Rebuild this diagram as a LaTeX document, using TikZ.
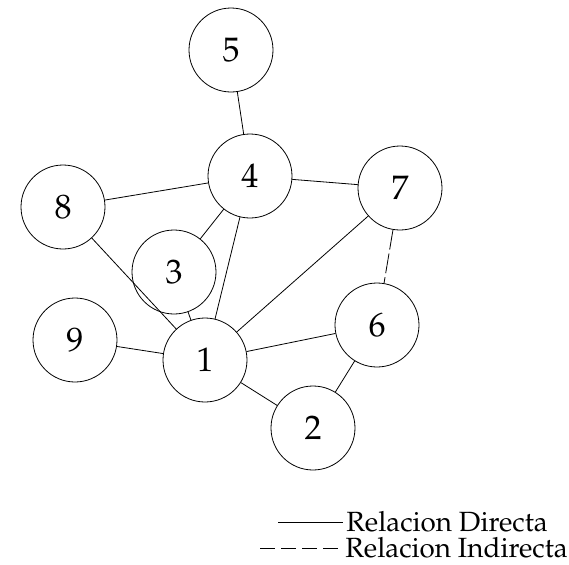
\documentclass[tikz,border=0pt]{standalone}
\usepackage[T1]{fontenc}
\usepackage{mathpazo}
\usetikzlibrary{positioning}

\begin{document}
\begin{tikzpicture}[x=0.5pt, y=-0.5pt,
    vertex/.style={circle, draw, minimum size=42pt, inner sep=0pt, font=\fontsize{17}{20}\selectfont},
    legend/.style={anchor=west, inner sep=1.5pt, font=\fontsize{13.9}{16}\selectfont}]
  \useasboundingbox (0,0) rectangle (569,564);
  % vertices
  \node[vertex] (n5) at (231,50) {5};
  \node[vertex] (n4) at (250,176) {4};
  \node[vertex] (n7) at (400,188) {7};
  \node[vertex] (n8) at (63,207) {8};
  \node[vertex] (n3) at (174,272) {3};
  \node[vertex] (n9) at (75,340) {9};
  \node[vertex] (n1) at (205,360) {1};
  \node[vertex] (n6) at (377,325) {6};
  \node[vertex] (n2) at (313,428) {2};
  % relations
  \draw (n5) -- (n4);
  \draw (n4) -- (n8);
  \draw (n4) -- (n7);
  \draw (n4) -- (n3);
  \draw (n4) -- (n1);
  \draw (n8) -- (n1);
  \draw (n3) -- (n1);
  \draw (n7) -- (n1);
  \draw (n9) -- (n1);
  \draw (n1) -- (n6);
  \draw (n1) -- (n2);
  \draw (n6) -- (n2);
  \draw[dash pattern=on 10pt off 2pt] (n7) -- (n6);
  % legend
  \node[legend] (direct) at (343,522) {Relacion Directa};
  \node[legend] (indirect) at (342,548) {Relacion Indirecta};
  \coordinate (dstart) at (278,522);
  \coordinate (istart) at (260,548);
  \draw (dstart) -- (direct.west);
  \draw[dash pattern=on 7.5pt off 3pt] (istart) -- (indirect.west);
\end{tikzpicture}
\end{document}
